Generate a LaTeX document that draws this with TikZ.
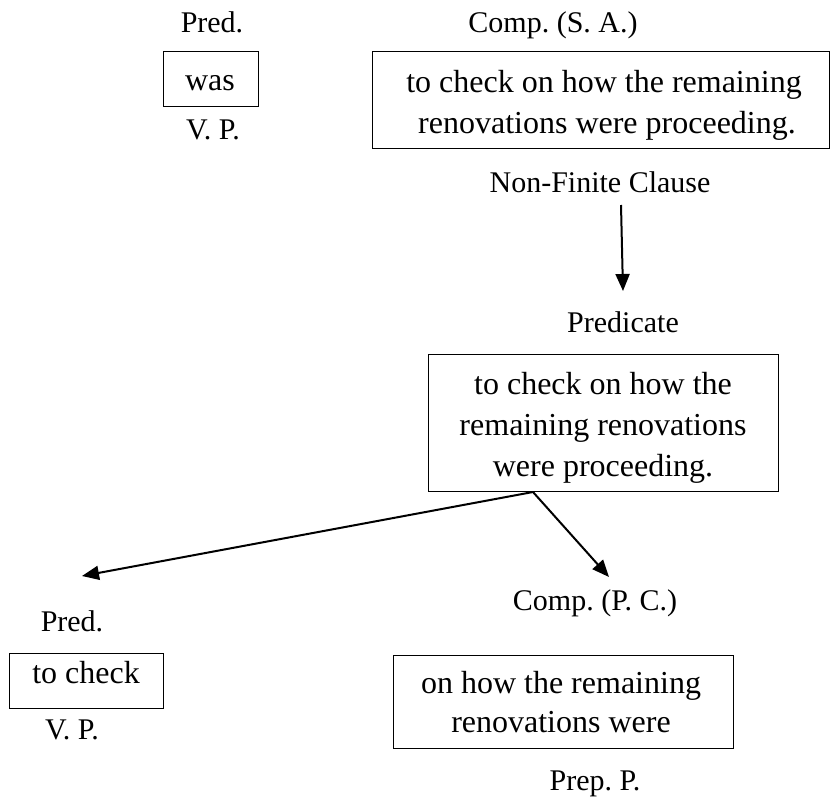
\documentclass[tikz,border=0pt]{standalone}
\usepackage{fontspec}
\setmainfont{Liberation Serif}
\usetikzlibrary{arrows.meta}
\frenchspacing
\begin{document}
\begin{tikzpicture}[x=1pt,y=-1pt,
  lbl/.style={inner sep=0pt, anchor=base, font=\fontsize{30}{36}\selectfont},
  btxt/.style={inner sep=0pt, anchor=base, font=\fontsize{32}{40}\selectfont},
  boxst/.style={draw, line width=1.1pt, inner sep=0pt, anchor=north west},
  arr/.style={line width=2pt, -{Triangle[length=17pt,width=14pt]}}]
\useasboundingbox (0,0) rectangle (837,800);
% top row
\node[lbl] (predA) at (212,33) {Pred.};
\node[boxst, minimum width=95pt, minimum height=55pt] (wasbox) at (163,51) {};
\node[btxt] (was) at (210,90) {was};
\node[lbl] (vpA) at (213,139) {V. P.};
\node[lbl] (compSA) at (553,33) {Comp. (S. A.)};
\node[boxst, minimum width=457pt, minimum height=97pt] (box1) at (372,51) {};
\node[btxt] (b1l1) at (604,92) {to check on how the remaining};
\node[btxt] (b1l2) at (607,133) {renovations were proceeding.};
\node[lbl] (nfc) at (600,192) {Non-Finite Clause};
% middle
\coordinate (a1s) at (621,205);
\coordinate (a1e) at (623,291);
\draw[arr] (a1s) -- (a1e);
\node[lbl] (predicate) at (623,332) {Predicate};
\node[boxst, minimum width=350pt, minimum height=137pt] (box2) at (428,354) {};
\node[btxt] (b2l1) at (603,394) {to check on how the};
\node[btxt] (b2l2) at (603,435) {remaining renovations};
\node[btxt] (b2l3) at (603,476) {were proceeding.};
\coordinate (split) at (533,492);
\coordinate (tipL) at (82,576);
\coordinate (tipR) at (609,577);
\draw[arr] (split) -- (tipL);
\draw[arr] (split) -- (tipR);
% bottom left
\node[lbl] (predB) at (72,631) {Pred.};
\node[boxst, minimum width=154pt, minimum height=55pt] (tcbox) at (9,653) {};
\node[btxt] (tocheck) at (86,683) {to check};
\node[lbl] (vpB) at (72,739) {V. P.};
% bottom right
\node[lbl] (compPC) at (595,610) {Comp. (P. C.)};
\node[boxst, minimum width=340pt, minimum height=93pt] (box3) at (393,655) {};
\node[btxt] (b3l1) at (561,693) {on how the remaining};
\node[btxt] (b3l2) at (561,732) {renovations were};
\node[lbl] (prepP) at (595,790) {Prep. P.};
\end{tikzpicture}
\end{document}
